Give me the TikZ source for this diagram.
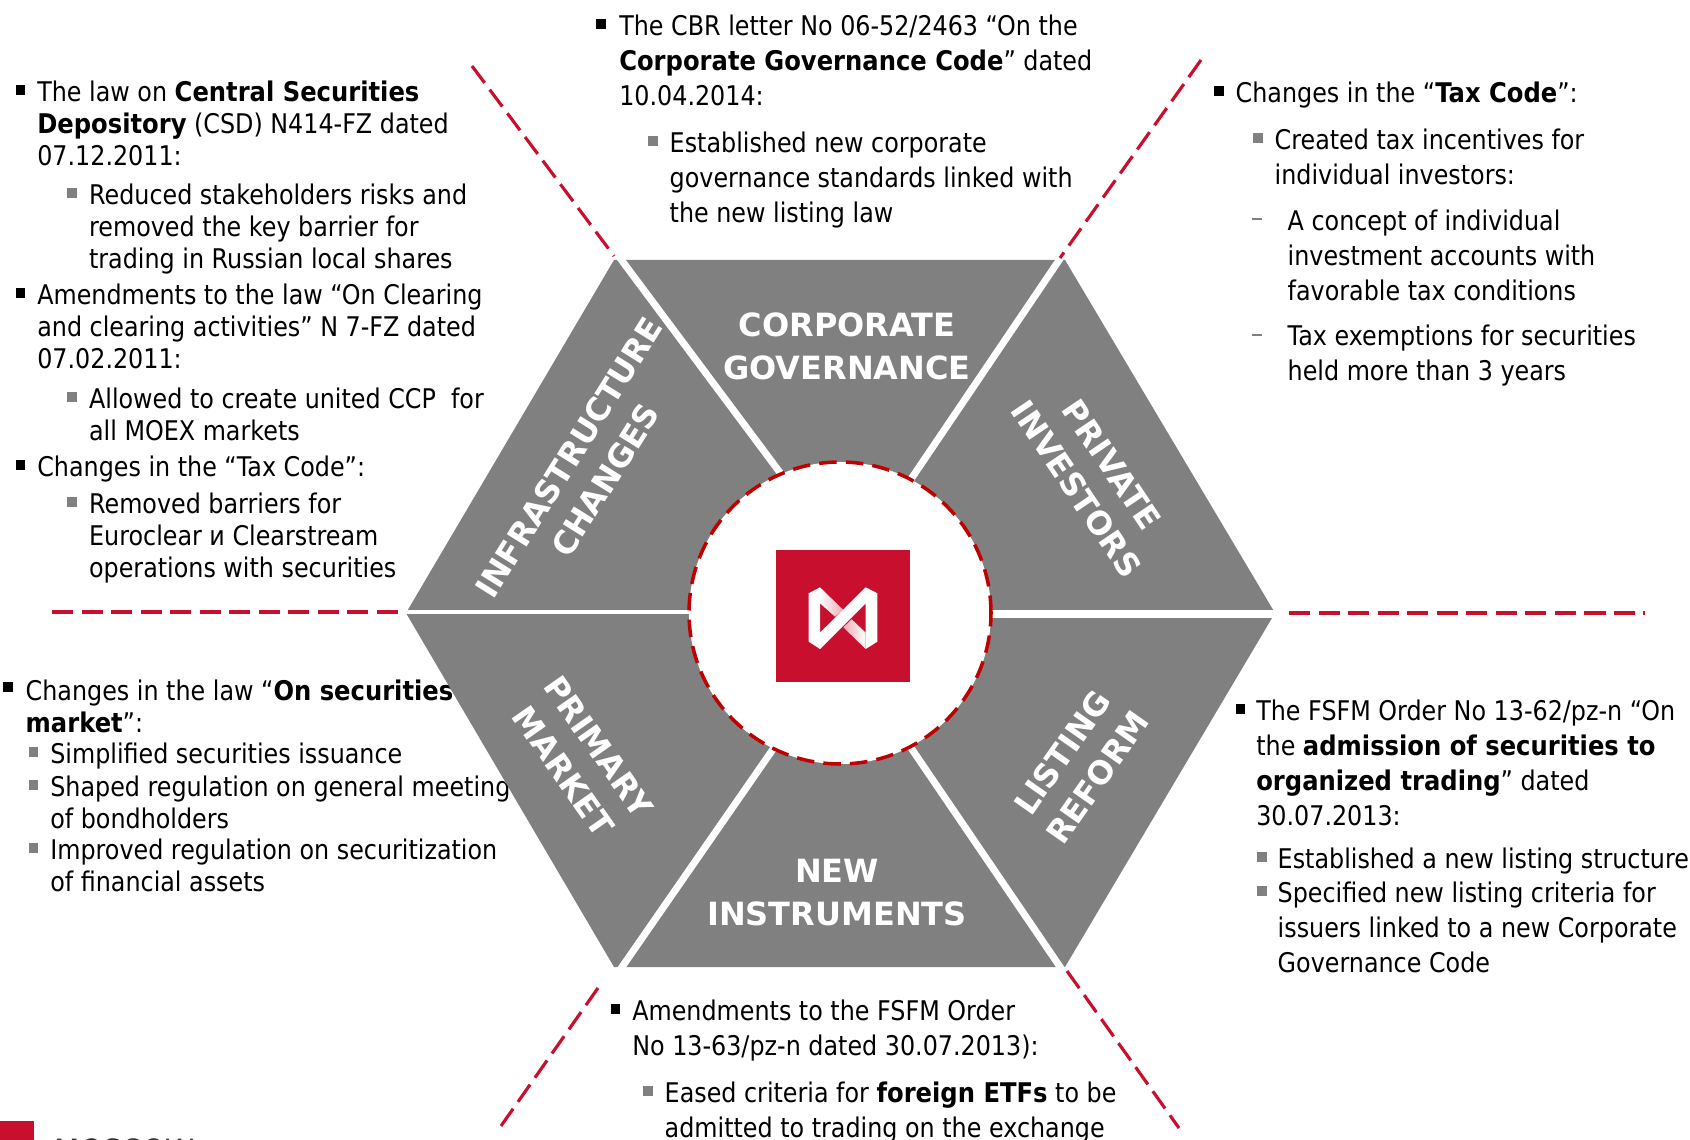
\documentclass[tikz,border=0pt]{standalone}
\usepackage{fontspec}
\setmainfont{DejaVu Sans}[FakeStretch=0.88,BoldFeatures={FakeStretch=0.895}]
\newfontfamily\headfont{DejaVu Sans}
\definecolor{moexred}{HTML}{C8102E}
\definecolor{ringred}{HTML}{C00000}
\definecolor{hexgray}{HTML}{808080}
\tikzset{
    bodytext/.style={anchor=north west, inner sep=0pt, align=left, text=black, font=\fontsize{7.7}{9.1}\selectfont},
    looser/.style={font=\fontsize{7.7}{10}\selectfont},
    mainmark/.style={fill=black, inner sep=0pt, minimum size=2.6pt},
    submark/.style={fill=hexgray, inner sep=0pt, minimum size=2.7pt},
    dashmark/.style={fill=hexgray, inner sep=0pt, minimum width=2.6pt, minimum height=0.4pt},
    sectorlabel/.style={inner sep=0pt, align=center, text=white, font=\fontsize{9.1}{12.2}\selectfont\headfont\bfseries},
    splitter/.style={draw=white, line width=2pt},
    reddash/.style={draw=moexred, line width=0.9pt, dash pattern=on 6pt off 2.4pt}
}
\begin{document}
\begin{tikzpicture}[x=0.01cm,y=0.01cm]
    \useasboundingbox (0,0) rectangle (1690,-1140);
    \clip (0,0) rectangle (1690,-1140);
    % upper left block
    \node[mainmark] (lawmark) at (20.5,-90) {};
    \node[bodytext] (law) at (36.6,-80) {The law on \textbf{Central Securities}\\\textbf{Depository} (CSD) N414-FZ dated\\07.12.2011:};
    \node[submark] (lawsubmark) at (72,-193) {};
    \node[bodytext] (lawsub) at (88.4,-183) {Reduced stakeholders risks and\\removed the key barrier for\\trading in Russian local shares};
    \node[mainmark] (clearmark) at (20.5,-293) {};
    \node[bodytext] (clear) at (36.6,-283) {Amendments to the law “On Clearing\\and clearing activities” N 7-FZ dated\\07.02.2011:};
    \node[submark] (clearsubmark) at (72,-397) {};
    \node[bodytext] (clearsub) at (88.4,-387) {Allowed to create united CCP\ \ for\\all MOEX markets};
    \node[mainmark] (taxmark) at (20.5,-465) {};
    \node[bodytext] (tax) at (36.6,-455) {Changes in the “Tax Code”:};
    \node[submark] (taxsubmark) at (72,-502) {};
    \node[bodytext] (taxsub) at (88.4,-492) {Removed barriers for\\Euroclear и Clearstream\\operations with securities};
    % top block
    \node[mainmark] (cbrmark) at (601,-24) {};
    \node[bodytext,looser] (cbr) at (618.6,-14) {The CBR letter No 06-52/2463 “On the\\\textbf{Corporate Governance Code}” dated\\10.04.2014:};
    \node[submark] (cbrsubmark) at (653,-141) {};
    \node[bodytext,looser] (cbrsub) at (669,-131) {Established new corporate\\governance standards linked with\\the new listing law};
    % upper right block
    \node[mainmark] (codemark) at (1219,-91) {};
    \node[bodytext] (code) at (1235,-81) {Changes in the “\textbf{Tax Code}”:};
    \node[submark] (codesubmark) at (1258,-138) {};
    \node[bodytext,looser] (codesub) at (1274,-128) {Created tax incentives for\\individual investors:};
    \node[dashmark] (acctmark) at (1257,-219) {};
    \node[bodytext,looser] (acct) at (1287,-209) {A concept of individual\\investment accounts with\\favorable tax conditions};
    \node[dashmark] (exemptmark) at (1257,-335) {};
    \node[bodytext,looser] (exempt) at (1287,-324) {Tax exemptions for securities\\held more than 3 years};
    % lower left block
    \node[mainmark] (marketmark) at (8,-687) {};
    \node[bodytext] (market) at (25,-679) {Changes in the law “\textbf{On securities}\\\textbf{market}”:};
    \node[submark] (issuemark) at (33.4,-752) {};
    \node[bodytext] (issue) at (49.6,-742) {Simplified securities issuance};
    \node[submark] (meetmark) at (33.4,-785) {};
    \node[bodytext] (meet) at (49.6,-775) {Shaped regulation on general meeting\\of bondholders};
    \node[submark] (assetmark) at (33.4,-848) {};
    \node[bodytext] (asset) at (49.6,-838) {Improved regulation on securitization\\of financial assets};
    % lower right block
    \node[mainmark] (fsfmmark) at (1240.5,-709) {};
    \node[bodytext,looser] (fsfm) at (1255.6,-699) {The FSFM Order No 13-62/pz-n “On\\the \textbf{admission of securities to}\\\textbf{organized trading}” dated\\30.07.2013:};
    \node[submark] (structmark) at (1262,-857) {};
    \node[bodytext] (struct) at (1277,-847) {Established a new listing structure};
    \node[submark] (critmark) at (1262,-891) {};
    \node[bodytext,looser] (crit) at (1277,-881) {Specified new listing criteria for\\issuers linked to a new Corporate\\Governance Code};
    % bottom block
    \node[mainmark] (ordermark) at (615.4,-1009) {};
    \node[bodytext,looser] (order) at (631.6,-999) {Amendments to the FSFM Order\\No 13-63/pz-n dated 30.07.2013):};
    \node[submark] (etfmark) at (648,-1091) {};
    \node[bodytext,looser] (etf) at (664,-1081) {Eased criteria for \textbf{foreign ETFs} to be\\admitted to trading on the exchange};
    % hexagon with its six sectors
    \fill [hexgray] (614,-260) -- (1065,-260) -- (1275,-613) -- (1065,-967) -- (614,-967) -- (406,-613) -- cycle;
    \coordinate (tlouter) at (614,-250);
    \coordinate (tlinner) at (790,-486);
    \coordinate (trouter) at (1068,-247);
    \coordinate (trinner) at (905,-488);
    \coordinate (blouter) at (613,-980);
    \coordinate (blinner) at (778,-742);
    \coordinate (brouter) at (1069,-980);
    \coordinate (brinner) at (907,-742);
    \coordinate (louter) at (400,-612);
    \coordinate (linner) at (700,-612);
    \coordinate (router) at (1282,-614);
    \coordinate (rinner) at (980,-614);
    \draw[splitter] (tlouter) -- (tlinner);
    \draw[splitter] (trouter) -- (trinner);
    \draw[splitter] (blouter) -- (blinner);
    \draw[splitter] (brouter) -- (brinner);
    \draw[splitter,line width=1.3pt] (louter) -- (linner);
    \draw[splitter] (router) -- (rinner);
    % dashed dividers
    \coordinate (dtlfar) at (472,-66);
    \coordinate (dtlnear) at (614,-256);
    \coordinate (dtrfar) at (1201,-60);
    \coordinate (dtrnear) at (1060,-258);
    \coordinate (dlfar) at (52,-612);
    \coordinate (dlnear) at (401,-612);
    \coordinate (drfar) at (1645,-613);
    \coordinate (drnear) at (1289,-613);
    \coordinate (dblfar) at (501,-1126);
    \coordinate (dblnear) at (598,-988);
    \coordinate (dbrfar) at (1179,-1128);
    \coordinate (dbrnear) at (1067,-971);
    \draw[reddash] (dtlfar) -- (dtlnear);
    \draw[reddash] (dtrfar) -- (dtrnear);
    \draw[reddash] (dlfar) -- (dlnear);
    \draw[reddash] (drnear) -- (drfar);
    \draw[reddash] (dblfar) -- (dblnear);
    \draw[reddash] (dbrnear) -- (dbrfar);
    % centre ring and logo
    \draw [fill=white, draw=ringred, line width=1pt, dash pattern=on 5pt off 2.6pt] (840,-613) circle (151);
    \fill [moexred] (776,-550) rectangle (910,-682);
    \shade [left color=white, right color=moexred!35!white] (820,-587.3) -- (843.3,-610) -- (835,-616.7) -- (820,-603.3) -- cycle;
    \shade [left color=moexred!35!white, right color=white] (865.7,-649) -- (843.3,-627.3) -- (851.7,-619.3) -- (865.7,-632.7) -- cycle;
    \fill [white] (808.7,-593.3) -- (820,-587.3) -- (820,-632.7) -- (865.7,-587.3) -- (877.3,-593.3) -- (877.3,-641.7) -- (865.7,-649) -- (865.7,-603.3) -- (820,-649) -- (808.7,-641.7) -- cycle;
    % sector titles
    \node[sectorlabel] (corpgov) at (847,-346) {CORPORATE\\GOVERNANCE};
    \node[sectorlabel] (newinstr) at (837,-893) {NEW\\INSTRUMENTS};
    \node[sectorlabel,rotate=58] (infra) at (587,-469) {INFRASTRUCTURE\\CHANGES};
    \node[sectorlabel,rotate=-56] (private) at (1094,-477) {PRIVATE\\INVESTORS};
    \node[sectorlabel,rotate=-55] (primary) at (581,-759) {PRIMARY\\MARKET};
    \node[sectorlabel,rotate=55] (listing) at (1080,-765) {LISTING\\REFORM};
    % company mark at the bottom edge
    \fill [moexred] (0,-1121) rectangle (34,-1140);
    \node[anchor=north west, inner sep=0pt, text=black!80, font=\fontsize{9.5}{9.6}\selectfont] (moscow) at (54,-1138) {MOSCOW};
\end{tikzpicture}
\end{document}
